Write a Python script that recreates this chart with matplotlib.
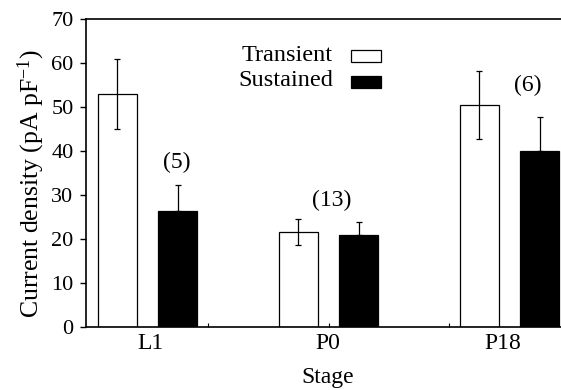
import numpy as np
import matplotlib
matplotlib.use("Agg")
import matplotlib.pyplot as plt
from matplotlib.patches import Rectangle

plt.rcParams["font.family"] = ["Liberation Serif", "DejaVu Serif"]
plt.rcParams["mathtext.fontset"] = "custom"
plt.rcParams["mathtext.rm"] = "Liberation Serif"
plt.rcParams["mathtext.it"] = "Liberation Serif:italic"

# current density per developmental stage (mean and SEM)
stages = ["L1", "P0", "P18"]
transient = [53.0, 21.6, 50.5]
transient_err = [8.0, 3.0, 7.7]
sustained = [26.3, 20.8, 39.9]
sustained_err = [6.0, 3.1, 7.9]
n_cells = ["(5)", "(13)", "(6)"]
n_pos = [(0.16, 37.4), (1.02, 28.8), (2.10, 54.8)]

W, H = 561, 390
fig = plt.figure(figsize=(W / 100, H / 100), dpi=100)
ax = fig.add_axes([86 / W, 1 - 327 / H, (600 - 86) / W, (327 - 19) / H])

x = np.arange(len(stages))
w = 0.22
off = 0.166

ax.bar(x - off, transient, w, color="white", edgecolor="black", linewidth=0.9, zorder=2)
ax.errorbar(x - off, transient, yerr=transient_err, fmt="none", ecolor="black",
            elinewidth=0.9, capsize=2.5, capthick=0.9, zorder=3)
ax.bar(x + off, sustained, w, color="black", edgecolor="black", linewidth=0.9, zorder=2)
ax.errorbar(x + off, sustained, yerr=[np.zeros(len(sustained)), sustained_err], fmt="none",
            ecolor="black", elinewidth=0.9, capsize=2.5, capthick=0.9, zorder=3)

for lab, (tx, ty) in zip(n_cells, n_pos):
    ax.text(tx, ty, lab, ha="center", va="center", fontsize=17)

ax.set_xlim(-0.3398, 2.5)
ax.set_ylim(0, 70)
ax.set_yticks(range(0, 71, 10))
ax.tick_params(axis="y", direction="out", length=4, width=1, pad=5, labelsize=16)
# stage names sit slightly off the group centres
ax.set_xticks([0.014, 0.997, 1.964])
ax.set_xticklabels(stages)
ax.tick_params(axis="x", which="major", length=0, pad=4, labelsize=17)
ax.set_xticks([1 / 3, 1, 5 / 3], minor=True)
ax.tick_params(axis="x", which="minor", direction="in", length=3, width=0.8)

for s in ["left", "bottom", "top"]:
    ax.spines[s].set_linewidth(1.2)
ax.spines["right"].set_visible(False)

# key: label text on the left, swatch on the right
key = [("Transient", "white", 61, 50), ("Sustained", "black", 86, 76)]
for lab, fc, base_y, box_top in key:
    fig.text(333 / W, 1 - base_y / H, lab, ha="right", va="baseline", fontsize=17.5)
    fig.add_artist(Rectangle((351 / W, 1 - (box_top + 12) / H), 30 / W, 12 / H,
                             facecolor=fc, edgecolor="black", linewidth=0.9,
                             transform=fig.transFigure))

fig.text(31 / W, 1 - 184 / H, "Current density (pA pF$^{-1}$)", rotation=90,
         ha="center", va="center", fontsize=18.5)
fig.text(328 / W, 1 - 377 / H, "Stage", ha="center", va="center", fontsize=17)

fig.savefig("out.png", dpi=100)
